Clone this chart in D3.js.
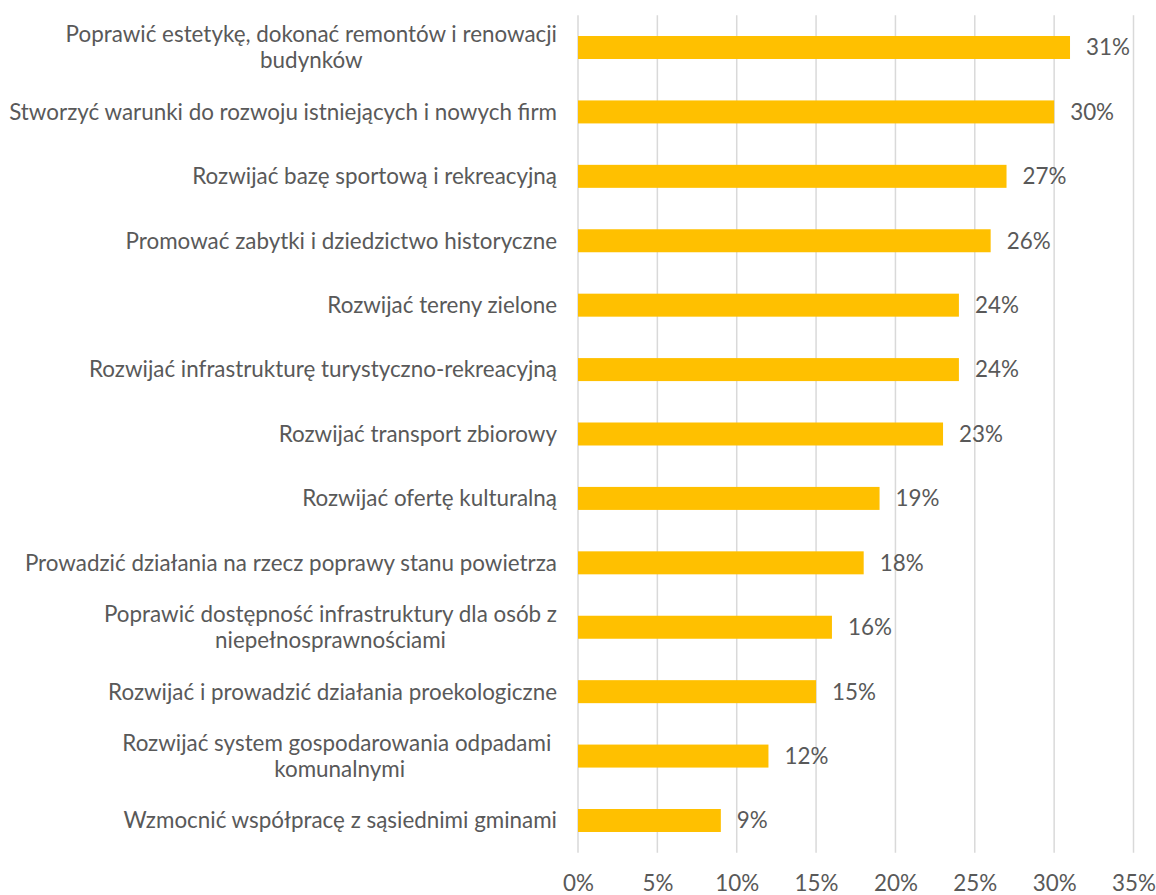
<!DOCTYPE html>
<html>
<head>
<meta charset="utf-8">
<script src="https://cdn.jsdelivr.net/npm/d3@7"></script>
<style>
  html, body { margin: 0; padding: 0; background: #fff; }
  svg { display: block; }
  text { font-family: Lato, "Open Sans", sans-serif; fill: #595959; white-space: pre; }
</style>
</head>
<body>
<svg id="chart" width="1156" height="895"></svg>
<script>
const categories = [
  "Poprawić estetykę, dokonać remontów i renowacji\nbudynków",
  "Stworzyć warunki do rozwoju istniejących i nowych firm",
  "Rozwijać bazę sportową i rekreacyjną",
  "Promować zabytki i dziedzictwo historyczne",
  "Rozwijać tereny zielone",
  "Rozwijać infrastrukturę turystyczno-rekreacyjną",
  "Rozwijać transport zbiorowy",
  "Rozwijać ofertę kulturalną",
  "Prowadzić działania na rzecz poprawy stanu powietrza",
  "Poprawić dostępność infrastruktury dla osób z\nniepełnosprawnościami",
  "Rozwijać i prowadzić działania proekologiczne",
  "Rozwijać system gospodarowania odpadami \nkomunalnymi",
  "Wzmocnić współpracę z sąsiednimi gminami"
];
const values = [31, 30, 27, 26, 24, 24, 23, 19, 18, 16, 15, 12, 9];
const xTicks = [0, 5, 10, 15, 20, 25, 30, 35];

const svg = d3.select("#chart");
const fontSize = 22.4;
const plot = { left: 578, right: 1133.5, top: 15.3, bottom: 852.7 };

const x = d3.scaleLinear().domain([0, 35]).range([plot.left, plot.right]);
const y = d3.scaleBand().domain(d3.range(categories.length))
  .range([plot.top, plot.bottom]).paddingInner(0.643).paddingOuter(0.3215);

// gridlines
svg.append("g").selectAll("line").data(xTicks).join("line")
  .attr("x1", d => x(d)).attr("x2", d => x(d))
  .attr("y1", plot.top).attr("y2", plot.bottom)
  .attr("stroke", "#d9d9d9").attr("stroke-width", 1.5);

// x axis labels
const xAxis = d3.axisBottom(x).tickValues(xTicks).tickFormat(d => d + "%").tickSize(0).tickPadding(0);
const gx = svg.append("g").attr("transform", `translate(0, 883)`).call(xAxis);
gx.select(".domain").remove();
gx.selectAll("text").attr("dy", "0.35em").attr("y", 0)
  .style("font-size", fontSize + "px").style("font-family", "Lato, 'Open Sans', sans-serif").attr("fill", "#595959");

// bars
svg.append("g").selectAll("rect").data(values).join("rect")
  .attr("x", x(0)).attr("y", (d, i) => y(i))
  .attr("width", d => x(d) - x(0)).attr("height", y.bandwidth())
  .attr("fill", "#FFC000");

// value labels
svg.append("g").selectAll("text").data(values).join("text")
  .attr("x", d => x(d) + 16).attr("y", (d, i) => y(i) + y.bandwidth() / 2)
  .attr("dy", "0.35em").style("font-size", fontSize + "px")
  .text(d => d + "%");

// category labels
const labelRight = 557;
const lineH = 26;
const gl = svg.append("g");
categories.forEach((c, i) => {
  const lines = c.split("\n");
  const cy = y(i) + y.bandwidth() / 2;
  const t = gl.append("text").style("font-size", fontSize + "px");
  const spans = lines.map((ln, k) => t.append("tspan").text(ln)
    .attr("y", cy + (k - (lines.length - 1) / 2) * lineH).attr("dy", "0.35em"));
  const widths = spans.map(s => s.node().getComputedTextLength());
  const W = d3.max(widths);
  const center = labelRight - W / 2;
  spans.forEach(s => s.attr("x", center).attr("text-anchor", "middle"));
});
</script>
</body>
</html>
